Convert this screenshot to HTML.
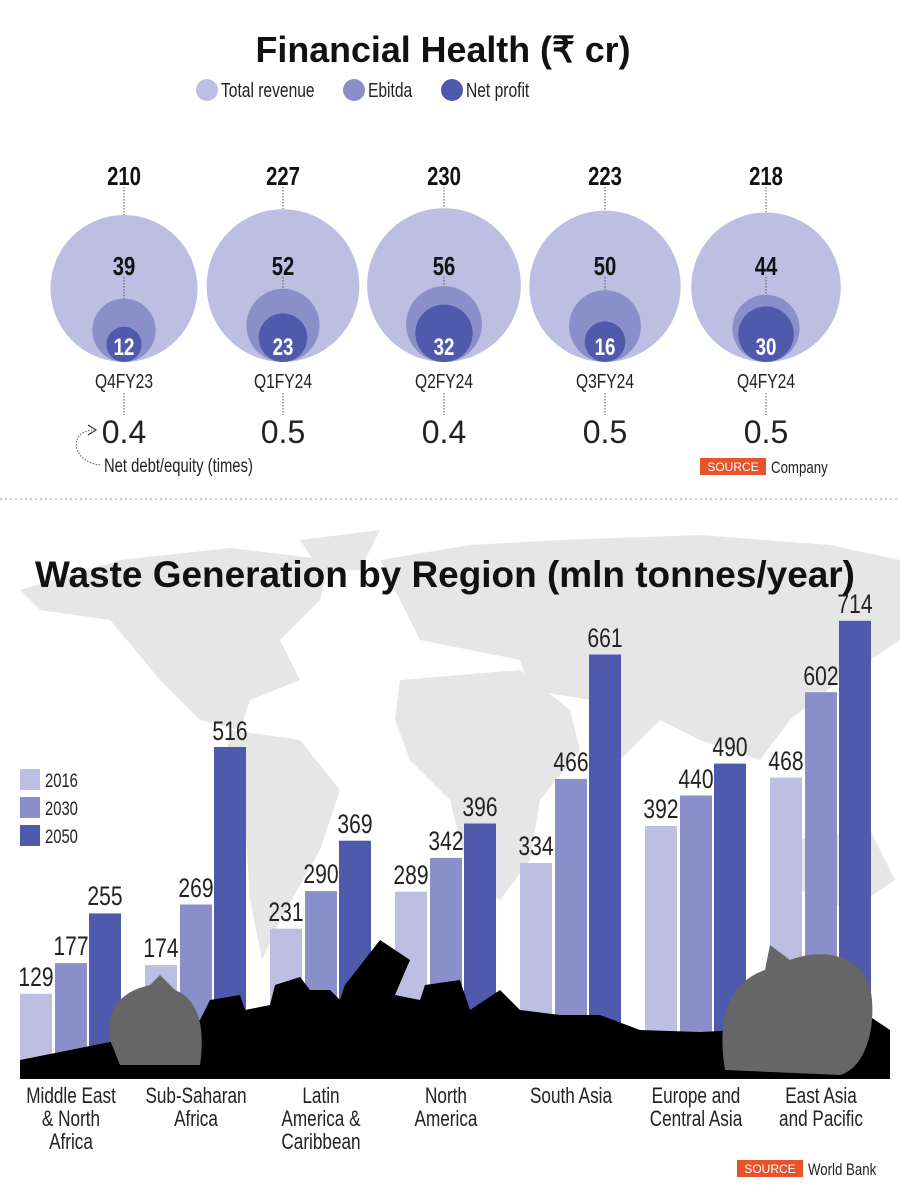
<!DOCTYPE html>
<html><head><meta charset="utf-8"><style>
body{margin:0;background:#fff;}
svg text{font-family:"Liberation Sans",sans-serif;}
.n{transform-box:fill-box;transform-origin:center;transform:scaleX(0.78);}
.s{transform-box:fill-box;transform-origin:left center;transform:scaleX(0.78);}
</style></head><body>
<svg width="900" height="1189" viewBox="0 0 900 1189" xmlns="http://www.w3.org/2000/svg">
<rect width="900" height="1189" fill="#fff"/>
<text x="443" y="62" text-anchor="middle" font-weight="bold" font-size="36" fill="#111" textLength="375" lengthAdjust="spacingAndGlyphs">Financial Health (₹ cr)</text>
<circle cx="207" cy="90" r="11" fill="#bcbfe2"/><text class="s" x="221" y="97" font-size="20" fill="#222">Total revenue</text>
<circle cx="354" cy="90" r="11" fill="#8a8fca"/><text class="s" x="368" y="97" font-size="20" fill="#222">Ebitda</text>
<circle cx="452" cy="90" r="11" fill="#4f5aad"/><text class="s" x="466" y="97" font-size="20" fill="#222">Net profit</text>
<g font-weight="bold">
<g>
<circle cx="124" cy="288.5" r="73.5" fill="#bcbfe2"/><circle cx="124" cy="330.3" r="31.7" fill="#8a8fca"/><circle cx="124" cy="344.4" r="17.6" fill="#4f5aad"/>
<line x1="124" y1="187" x2="124" y2="215" stroke="#555" stroke-dasharray="1.5 1.5"/>
<line x1="124" y1="277" x2="124" y2="299" stroke="#555" stroke-dasharray="1.5 1.5"/>
<text class="n" x="124" y="185" text-anchor="middle" font-size="26" fill="#111">210</text>
<text class="n" x="124" y="275" text-anchor="middle" font-size="26" fill="#111">39</text>
<text class="n" x="124" y="355" text-anchor="middle" font-size="24" fill="#fff">12</text>
</g>
<g>
<circle cx="283" cy="285.6" r="76.4" fill="#bcbfe2"/><circle cx="283" cy="325.4" r="36.6" fill="#8a8fca"/><circle cx="283" cy="337.7" r="24.3" fill="#4f5aad"/>
<line x1="283" y1="187" x2="283" y2="209" stroke="#555" stroke-dasharray="1.5 1.5"/>
<line x1="283" y1="277" x2="283" y2="289" stroke="#555" stroke-dasharray="1.5 1.5"/>
<text class="n" x="283" y="185" text-anchor="middle" font-size="26" fill="#111">227</text>
<text class="n" x="283" y="275" text-anchor="middle" font-size="26" fill="#111">52</text>
<text class="n" x="283" y="355" text-anchor="middle" font-size="24" fill="#fff">23</text>
</g>
<g>
<circle cx="444" cy="285.1" r="76.9" fill="#bcbfe2"/><circle cx="444" cy="324.1" r="37.9" fill="#8a8fca"/><circle cx="444" cy="333.3" r="28.7" fill="#4f5aad"/>
<line x1="444" y1="187" x2="444" y2="208" stroke="#555" stroke-dasharray="1.5 1.5"/>
<line x1="444" y1="277" x2="444" y2="286" stroke="#555" stroke-dasharray="1.5 1.5"/>
<text class="n" x="444" y="185" text-anchor="middle" font-size="26" fill="#111">230</text>
<text class="n" x="444" y="275" text-anchor="middle" font-size="26" fill="#111">56</text>
<text class="n" x="444" y="355" text-anchor="middle" font-size="24" fill="#fff">32</text>
</g>
<g>
<circle cx="605" cy="286.3" r="75.7" fill="#bcbfe2"/><circle cx="605" cy="326.1" r="35.9" fill="#8a8fca"/><circle cx="605" cy="341.7" r="20.3" fill="#4f5aad"/>
<line x1="605" y1="187" x2="605" y2="210" stroke="#555" stroke-dasharray="1.5 1.5"/>
<line x1="605" y1="277" x2="605" y2="290" stroke="#555" stroke-dasharray="1.5 1.5"/>
<text class="n" x="605" y="185" text-anchor="middle" font-size="26" fill="#111">223</text>
<text class="n" x="605" y="275" text-anchor="middle" font-size="26" fill="#111">50</text>
<text class="n" x="605" y="355" text-anchor="middle" font-size="24" fill="#fff">16</text>
</g>
<g>
<circle cx="766" cy="287.2" r="74.8" fill="#bcbfe2"/><circle cx="766" cy="328.4" r="33.6" fill="#8a8fca"/><circle cx="766" cy="334.2" r="27.8" fill="#4f5aad"/>
<line x1="766" y1="187" x2="766" y2="212" stroke="#555" stroke-dasharray="1.5 1.5"/>
<line x1="766" y1="277" x2="766" y2="294" stroke="#555" stroke-dasharray="1.5 1.5"/>
<text class="n" x="766" y="185" text-anchor="middle" font-size="26" fill="#111">218</text>
<text class="n" x="766" y="275" text-anchor="middle" font-size="26" fill="#111">44</text>
<text class="n" x="766" y="355" text-anchor="middle" font-size="24" fill="#fff">30</text>
</g>
</g>
<g font-size="20" fill="#222" text-anchor="middle">
<text class="n" x="124" y="388">Q4FY23</text><text class="n" x="283" y="388">Q1FY24</text><text class="n" x="444" y="388">Q2FY24</text><text class="n" x="605" y="388">Q3FY24</text><text class="n" x="766" y="388">Q4FY24</text>
</g>
<g stroke="#555" stroke-dasharray="1.5 1.5">
<line x1="124" y1="393" x2="124" y2="415"/><line x1="283" y1="393" x2="283" y2="415"/><line x1="444" y1="393" x2="444" y2="415"/><line x1="605" y1="393" x2="605" y2="415"/><line x1="766" y1="393" x2="766" y2="415"/>
</g>
<g font-size="32" fill="#222" text-anchor="middle">
<text x="124" y="443">0.4</text><text x="283" y="443">0.5</text><text x="444" y="443">0.4</text><text x="605" y="443">0.5</text><text x="766" y="443">0.5</text>
</g>
<path d="M100 465 C72 462 68 432 92 430" fill="none" stroke="#555" stroke-dasharray="1.5 1.5"/>
<path d="M88 425 L96 430 L88 435" fill="none" stroke="#333" stroke-width="1.2"/>
<text class="s" x="104" y="472" font-size="19" fill="#222">Net debt/equity (times)</text>
<rect x="700" y="458" width="66" height="17" fill="#e8532b"/>
<text x="733" y="471" text-anchor="middle" font-size="12" fill="#fff">SOURCE</text>
<text class="s" x="771" y="473" font-size="17" fill="#222">Company</text>
<line x1="0" y1="499" x2="900" y2="499" stroke="#999" stroke-dasharray="2 3"/>

<g fill="#e6e6e6">
<path d="M20 590 L120 560 L230 548 L330 560 L320 600 L280 640 L300 680 L250 700 L240 730 L200 720 L160 680 L110 620 L40 610 Z"/>
<path d="M230 730 L300 740 L340 790 L320 850 L280 920 L262 960 L250 900 L245 820 L225 770 Z"/>
<path d="M380 560 L470 545 L560 540 L700 535 L830 545 L900 560 L900 640 L840 680 L790 720 L760 760 L700 740 L660 720 L620 760 L590 700 L530 690 L520 660 L470 650 L420 640 L400 600 Z"/>
<path d="M400 680 L520 670 L570 710 L580 750 L540 800 L530 860 L500 900 L470 880 L450 800 L410 760 L395 720 Z"/>
<path d="M790 840 L870 830 L895 880 L850 910 L800 890 Z"/>
<path d="M300 540 L380 530 L360 570 L320 570 Z"/>
</g>
<text x="445" y="587" text-anchor="middle" font-weight="bold" font-size="37" fill="#111" textLength="820" lengthAdjust="spacingAndGlyphs">Waste Generation by Region (mln tonnes/year)</text>

<rect x="20" y="769" width="20" height="21" fill="#bcbfe2"/><text class="s" x="45" y="787" font-size="19" fill="#222">2016</text>
<rect x="20" y="797" width="20" height="21" fill="#8a8fca"/><text class="s" x="45" y="815" font-size="19" fill="#222">2030</text>
<rect x="20" y="825" width="20" height="21" fill="#4f5aad"/><text class="s" x="45" y="843" font-size="19" fill="#222">2050</text>

<g font-size="27" fill="#222" text-anchor="middle">
<rect x="20" y="993.7" width="32" height="82.3" fill="#bcbfe2"/><text class="n" x="36" y="986">129</text>
<rect x="55" y="963.1" width="32" height="112.9" fill="#8a8fca"/><text class="n" x="71" y="955">177</text>
<rect x="89" y="913.4" width="32" height="162.6" fill="#4f5aad"/><text class="n" x="105" y="905">255</text>
<rect x="145" y="965.1" width="32" height="110.9" fill="#bcbfe2"/><text class="n" x="161" y="957">174</text>
<rect x="180" y="904.5" width="32" height="171.5" fill="#8a8fca"/><text class="n" x="196" y="897">269</text>
<rect x="214" y="747" width="32" height="329" fill="#4f5aad"/><text class="n" x="230" y="740">516</text>
<rect x="270" y="928.7" width="32" height="147.3" fill="#bcbfe2"/><text class="n" x="286" y="921">231</text>
<rect x="305" y="891.1" width="32" height="184.9" fill="#8a8fca"/><text class="n" x="321" y="883">290</text>
<rect x="339" y="840.7" width="32" height="235.3" fill="#4f5aad"/><text class="n" x="355" y="833">369</text>
<rect x="395" y="891.7" width="32" height="184.3" fill="#bcbfe2"/><text class="n" x="411" y="884">289</text>
<rect x="430" y="857.9" width="32" height="218.1" fill="#8a8fca"/><text class="n" x="446" y="850">342</text>
<rect x="464" y="823.5" width="32" height="252.5" fill="#4f5aad"/><text class="n" x="480" y="816">396</text>
<rect x="520" y="863" width="32" height="213" fill="#bcbfe2"/><text class="n" x="536" y="855">334</text>
<rect x="555" y="778.9" width="32" height="297.1" fill="#8a8fca"/><text class="n" x="571" y="771">466</text>
<rect x="589" y="654.5" width="32" height="421.5" fill="#4f5aad"/><text class="n" x="605" y="647">661</text>
<rect x="645" y="826" width="32" height="250" fill="#bcbfe2"/><text class="n" x="661" y="818">392</text>
<rect x="680" y="795.5" width="32" height="280.5" fill="#8a8fca"/><text class="n" x="696" y="788">440</text>
<rect x="714" y="763.6" width="32" height="312.4" fill="#4f5aad"/><text class="n" x="730" y="756">490</text>
<rect x="770" y="777.6" width="32" height="298.4" fill="#bcbfe2"/><text class="n" x="786" y="770">468</text>
<rect x="805" y="692.2" width="32" height="383.8" fill="#8a8fca"/><text class="n" x="821" y="685">602</text>
<rect x="839" y="620.8" width="32" height="455.2" fill="#4f5aad"/><text class="n" x="855" y="613">714</text>
</g>

<path d="M20 1060 L110 1042 L200 1020 L210 1000 L240 995 L245 1010 L270 1005 L275 985 L300 977 L310 990 L330 990 L340 1000 L345 985 L380 940 L410 960 L395 995 L420 1000 L425 985 L460 980 L470 1010 L500 990 L520 1010 L560 1015 L600 1015 L640 1030 L700 1032 L740 1030 L780 1010 L820 995 L860 1010 L890 1030 L890 1079 L20 1079 Z" fill="#000"/>
<path d="M110 1040 C105 1000 130 990 150 985 L160 975 L175 990 C200 1000 205 1030 200 1065 L120 1065 Z" fill="#666"/>
<path d="M725 1070 C715 1010 735 980 765 970 L770 945 L790 960 C830 945 870 960 872 1000 C875 1040 860 1070 840 1075 Z" fill="#666"/>

<g font-size="22" fill="#222" text-anchor="middle">
<text class="n" x="71" y="1103">Middle East</text><text class="n" x="71" y="1126">&amp; North</text><text class="n" x="71" y="1149">Africa</text>
<text class="n" x="196" y="1103">Sub-Saharan</text><text class="n" x="196" y="1126">Africa</text>
<text class="n" x="321" y="1103">Latin</text><text class="n" x="321" y="1126">America &amp;</text><text class="n" x="321" y="1149">Caribbean</text>
<text class="n" x="446" y="1103">North</text><text class="n" x="446" y="1126">America</text>
<text class="n" x="571" y="1103">South Asia</text>
<text class="n" x="696" y="1103">Europe and</text><text class="n" x="696" y="1126">Central Asia</text>
<text class="n" x="821" y="1103">East Asia</text><text class="n" x="821" y="1126">and Pacific</text>
</g>
<rect x="737" y="1160" width="66" height="17" fill="#e8532b"/>
<text x="770" y="1173" text-anchor="middle" font-size="12" fill="#fff">SOURCE</text>
<text class="s" x="808" y="1175" font-size="17" fill="#222">World Bank</text>
</svg>
</body></html>
